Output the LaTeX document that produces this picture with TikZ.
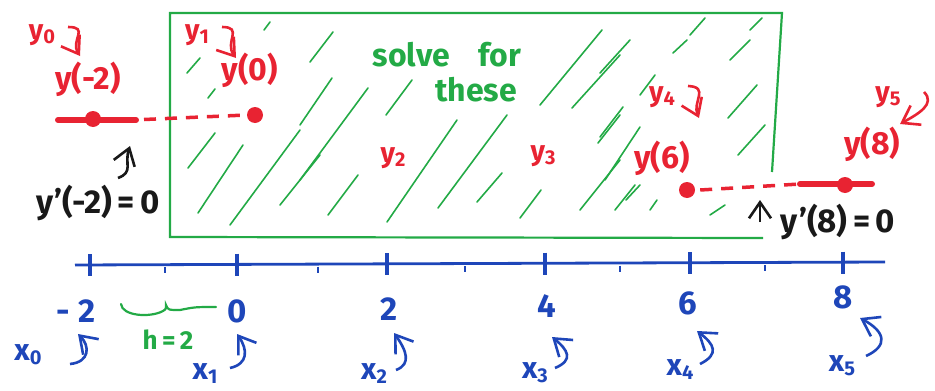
\documentclass[tikz,border=0pt]{standalone}
\usepackage{fontspec}
\setmainfont{Fira Sans}
\usetikzlibrary{arrows.meta}
\definecolor{pred}{RGB}{232,35,50}
\definecolor{pgreen}{RGB}{35,170,70}
\definecolor{pblue}{RGB}{30,70,185}
\definecolor{pblack}{RGB}{25,25,25}
\newcommand{\sbs}[1]{\raisebox{-4pt}{\fontsize{20}{20}\selectfont #1}}
\begin{document}
\begin{tikzpicture}[x=1pt,y=-1pt,
  lbl/.style={inner sep=0pt},
  redbig/.style={lbl,text=pred,font=\fontsize{32}{32}\selectfont\bfseries},
  redsmall/.style={lbl,text=pred,font=\fontsize{28}{28}\selectfont\bfseries},
  greentxt/.style={lbl,text=pgreen,font=\fontsize{32}{32}\selectfont\bfseries},
  blacktxt/.style={lbl,text=pblack,font=\fontsize{33}{33}\selectfont\bfseries},
  bluenum/.style={lbl,text=pblue,font=\fontsize{33}{33}\selectfont\bfseries},
  bluex/.style={lbl,text=pblue,font=\fontsize{30}{30}\selectfont\bfseries},
  hatch/.style={pgreen,line width=1.6pt,line cap=round},
  frame/.style={pgreen,line width=2.2pt},
  tipv/.style={-{Straight Barb[length=16pt,width=22pt,line width=2.6pt]}},
  redcurly/.style={pred,line width=2.6pt,tipv},
  bluecurly/.style={pblue,line width=2.6pt,tipv},
  blackcurly/.style={pblack,line width=2.6pt,tipv},
  dotnode/.style={circle,fill=pred,inner sep=0pt,minimum size=16pt},
  thickred/.style={pred,line width=6pt,line cap=round},
  dashred/.style={pred,line width=3.5pt,dash pattern=on 12pt off 9pt},
  majortick/.style={pblue,line width=3.2pt},
  minortick/.style={pblue,line width=2pt}]
\useasboundingbox (0,0) rectangle (935,391);
% green frame (open at bottom right)
\draw[frame] (763,238) -- (170,237) -- (170,13) -- (782,13) -- (772,172);
% hatching
\foreach \a/\b/\c/\d in {
 187/73/200/58, 208/98/215/89, 188/168/215/133, 198/213/243/145,
 230/225/300/130, 280/205/320/155, 264/30/270/22, 310/62/333/32,
 300/125/332/78, 300/180/368/88, 386/115/412/80, 328/215/358/175,
 387/222/457/120, 438/208/507/115, 477/202/502/173, 520/218/541/190,
 540/105/602/30, 572/108/620/55, 598/143/620/115, 580/210/620/160,
 600/73/630/40, 600/137/623/107, 605/180/640/127, 615/210/635/185,
 650/210/657/200, 710/215/725/205, 728/118/757/85, 738/155/765/125,
 673/53/687/40, 730/60/750/40, 626/200/640/185, 690/35/705/18,
 750/30/762/18, 640/95/655/75}
 \draw[hatch] (\a,\b) -- (\c,\d);
% green text
\node[greentxt] (solve) at (447,55) {solve\hspace{0.9em}for};
\node[greentxt] (these) at (476,90) {these};
% axis
\coordinate (axL) at (75,265);
\coordinate (axR) at (885,262);
\draw[pblue,line width=2.8pt] (axL) -- (axR);
\foreach \x/\y in {90/265, 237/264.5, 387/264, 545/263.5, 690/263, 843/262.5}
 \draw[majortick] (\x,\y-11) -- (\x,\y+11);
\foreach \x/\y in {165/265, 318/264.5, 465/264, 620/263.5, 765/263}
 \draw[minortick] (\x,\y+2) -- (\x,\y+8);
% axis numbers
\node[bluenum] (nm2) at (76,311) {-\hspace{9pt}2};
\node[bluenum] (n0) at (237,311) {0};
\node[bluenum] (n2) at (389,309) {2};
\node[bluenum] (n4) at (547,306) {4};
\node[bluenum] (n6) at (688,303) {6};
\node[bluenum] (n8) at (843,297) {8};
% x labels
\node[bluex] (x0) at (28,355) {x\sbs{0}};
\node[bluex] (x1) at (205,374) {x\sbs{1}};
\node[bluex] (x2) at (374,374) {x\sbs{2}};
\node[bluex] (x3) at (535,373) {x\sbs{3}};
\node[bluex] (x4) at (680,370) {x\sbs{4}};
\node[bluex] (x5) at (842,366) {x\sbs{5}};
\draw[bluecurly] (70,364) .. controls (90,362) and (90,346) .. (78,334);
\draw[bluecurly] (230,368) .. controls (248,364) and (248,350) .. (237,334);
\draw[bluecurly] (396,370) .. controls (412,364) and (406,350) .. (394,333);
\draw[bluecurly] (555,368) .. controls (574,360) and (568,350) .. (552,337);
\draw[bluecurly] (700,364) .. controls (720,354) and (714,344) .. (697,331);
\draw[bluecurly] (866,356) .. controls (888,346) and (886,332) .. (860,318);
% h = 2 brace
\draw[pgreen,line width=2.2pt,line cap=round] (121,304) .. controls (122,316) and (150,318) .. (163,311)
  .. controls (166,309) .. (166,305) .. controls (168,310) .. (180,310) .. controls (195,307) .. (216,307);
\node[lbl,text=pgreen,font=\fontsize{26}{26}\selectfont\bfseries] (h) at (168,340) {h\,=\,2};
% red points and lines
\node[dotnode] (d0) at (93,119) {};
\node[dotnode] (d1) at (255,115) {};
\node[dotnode] (d4) at (687,190) {};
\node[dotnode] (d5) at (845,185) {};
\coordinate (lA) at (58,120);
\coordinate (lB) at (136,120);
\coordinate (rA) at (800,184);
\coordinate (rB) at (872,184);
\draw[thickred] (lA) -- (lB);
\draw[thickred] (rA) -- (rB);
\draw[dashred] (lB) ++(8,-0.5) -- (d1.west);
\draw[dashred] (d4.east) ++(5,0) -- (rA);
% red labels
\node[redsmall] (y0) at (42,35) {y\sbs{0}};
\node[redbig] (ym2) at (88,79) {y(-2)};
\node[redsmall] (y1) at (197,35) {y\sbs{1}};
\node[redbig] (yz) at (250,70) {y(0)};
\node[redsmall] (y2) at (393,158) {y\sbs{2}};
\node[redsmall] (y3) at (543,156) {y\sbs{3}};
\node[redsmall] (y4) at (662,97) {y\sbs{4}};
\node[redbig] (y6) at (662,158) {y(6)};
\node[redsmall] (y5) at (888,97) {y\sbs{5}};
\node[redbig] (y8) at (872,144) {y(8)};
\draw[redcurly] (68,27) .. controls (90,27) and (70,40) .. (80,56);
\draw[redcurly] (222,27) .. controls (244,27) and (224,42) .. (236,58);
\draw[redcurly] (688,86) .. controls (710,87) and (692,102) .. (699,118);
\draw[redcurly] (924,92) .. controls (936,104) and (918,114) .. (900,124);
% black labels
\node[blacktxt] (dl) at (98,203) {y\kern1pt'(-2)\,=\,0};
\node[blacktxt] (dr) at (838,222) {y\kern1pt'(8)\,=\,0};
\draw[blackcurly] (118,178) .. controls (134,172) and (124,164) .. (130,146);
\draw[blackcurly] (760,222) -- (760,200);
\end{tikzpicture}
\end{document}
